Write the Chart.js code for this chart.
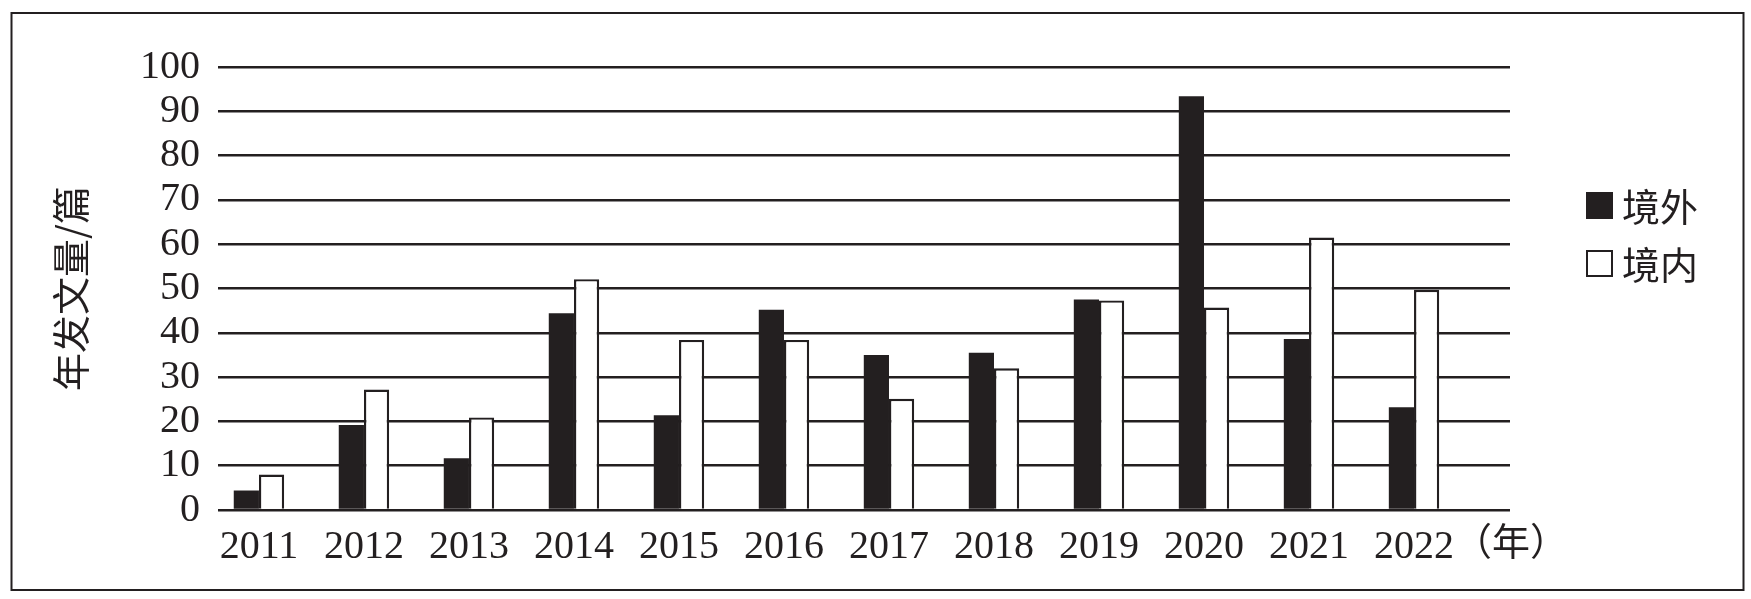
<!DOCTYPE html>
<html>
<head>
<meta charset="utf-8">
<script src="https://cdn.jsdelivr.net/npm/chart.js@4"></script>
<style>
  html, body { margin: 0; padding: 0; background: #fff; }
  canvas { display: block; }
</style>
</head>
<body>
<canvas id="chart" width="1751" height="599"></canvas>
<script>
const years = ["2011", "2012", "2013", "2014", "2015", "2016", "2017", "2018", "2019", "2020", "2021", "2022"];
const outsideCounts = [4.4, 19.2, 11.7, 44.4, 21.4, 45.2, 35, 35.5, 47.5, 93.4, 38.6, 23.2];
const insideCounts = [8, 27.2, 20.9, 52.1, 38.4, 38.4, 25.1, 32, 47.3, 45.7, 61.5, 49.7];
const seriesNames = ["境外", "境内"];
const yTicks = [0, 10, 20, 30, 40, 50, 60, 70, 80, 90, 100];
const yTitle = "年发文量/篇";
const xUnit = "（年）";

const ink = "#231f20";
const numFont = "'Liberation Serif', 'Times New Roman', serif";
const cjkFont = "'Noto Sans CJK SC', sans-serif";

function toPoints(values) {
    return values.map((v, i) => ({ x: i, y: v }));
}

// frame, legend and the unit label after the last year
const extras = {
    id: "extras",
    beforeDraw(chart) {
        const ctx = chart.ctx;
        ctx.save();
        ctx.fillStyle = "#fff";
        ctx.fillRect(0, 0, chart.width, chart.height);
        ctx.restore();
    },
    afterDraw(chart) {
        const ctx = chart.ctx;
        ctx.save();
        ctx.strokeStyle = ink;
        ctx.lineWidth = 2;
        ctx.strokeRect(11.5, 13, 1732, 577);

        // legend
        chart.data.datasets.forEach((ds, i) => {
            const top = 192 + i * 58;
            if (i === 0) {
                ctx.fillStyle = ink;
                ctx.fillRect(1586, top, 27, 27);
            } else {
                ctx.fillStyle = "#fff";
                ctx.fillRect(1587, top + 1, 25, 25);
                ctx.strokeStyle = ink;
                ctx.lineWidth = 2;
                ctx.strokeRect(1587, top + 1, 25, 25);
            }
            ctx.fillStyle = ink;
            ctx.font = "38px " + cjkFont;
            ctx.textAlign = "left";
            ctx.textBaseline = "middle";
            ctx.fillText(ds.label, 1622, top + 15);
        });

        // (年) after the x labels
        const xs = chart.scales.x;
        ctx.font = "40px " + numFont;
        const lastW = ctx.measureText(years[years.length - 1]).width;
        const lx = xs.getPixelForValue(years.length - 1) + lastW / 2;
        ctx.font = "38px " + cjkFont;
        ctx.fillStyle = ink;
        ctx.textAlign = "left";
        ctx.textBaseline = "middle";
        ctx.fillText(xUnit, lx, 541);
        ctx.restore();
    }
};

new Chart(document.getElementById("chart"), {
    type: "bar",
    data: {
        datasets: [
            {
                label: seriesNames[0],
                data: toPoints(outsideCounts),
                backgroundColor: ink,
                borderColor: ink,
                borderWidth: 0
            },
            {
                label: seriesNames[1],
                data: toPoints(insideCounts),
                backgroundColor: "#fff",
                borderColor: ink,
                borderWidth: 2.4
            }
        ]
    },
    options: {
        responsive: false,
        animation: false,
        categoryPercentage: 0.48,
        barPercentage: 1,
        layout: {
            padding: { left: 12, right: 241, top: 67, bottom: 12 }
        },
        plugins: {
            legend: { display: false },
            tooltip: { enabled: false }
        },
        scales: {
            x: {
                type: "linear",
                offset: false,
                min: -0.39,
                max: 11.914,
                grid: { display: false },
                border: { display: false },
                afterFit: (scale) => { scale.height = 77; },
                afterBuildTicks: (scale) => {
                    scale.ticks = years.map((_, i) => ({ value: i }));
                },
                ticks: {
                    padding: 5,
                    color: ink,
                    maxRotation: 0,
                    autoSkip: false,
                    font: { family: numFont, size: 40 },
                    callback: (v) => years[v]
                }
            },
            y: {
                min: 0,
                max: 100,
                afterFit: (scale) => { scale.width = 206; },
                afterBuildTicks: (scale) => {
                    scale.ticks = yTicks.map(v => ({ value: v }));
                },
                grid: { color: ink, lineWidth: 2.5, drawTicks: false },
                border: { display: false },
                ticks: {
                    padding: 18,
                    color: ink,
                    autoSkip: false,
                    font: { family: numFont, size: 40 }
                },
                title: {
                    display: true,
                    text: yTitle,
                    color: ink,
                    font: { family: cjkFont, size: 38 },
                    padding: { top: 36, bottom: 0 }
                }
            }
        }
    },
    plugins: [extras]
});
</script>
</body>
</html>
